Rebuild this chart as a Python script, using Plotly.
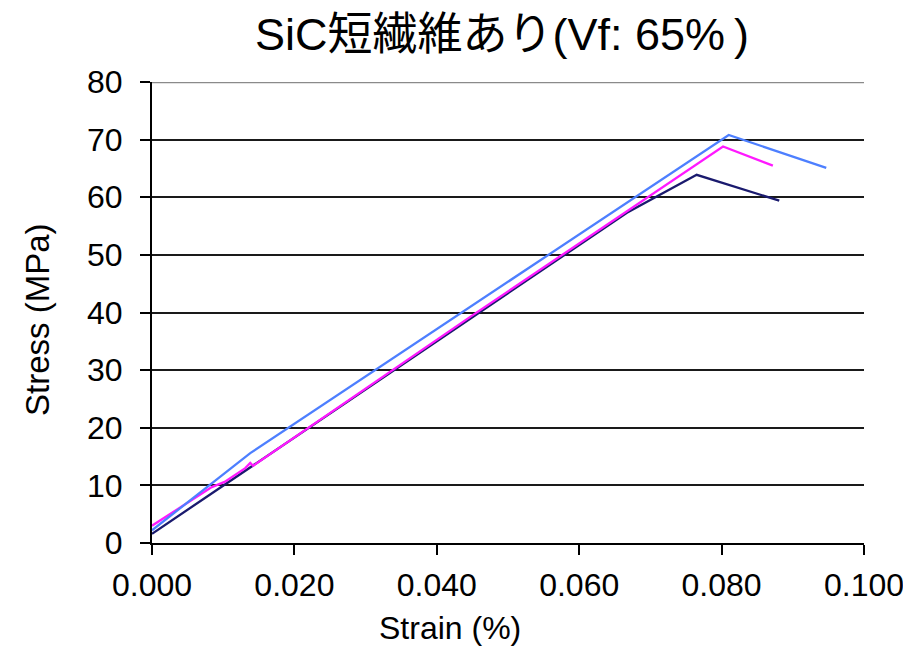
import plotly.graph_objects as go

# Data
strain_blue = [0.0, 0.0138, 0.0810, 0.0947]
stress_blue = [2.2, 15.6, 70.8, 65.1]

strain_magenta = [0.0, 0.0084, 0.0102, 0.0131, 0.0138, 0.0142, 0.045, 0.0802, 0.0872]
stress_magenta = [3.0, 9.7, 10.6, 13.0, 13.9, 13.4, 39.5, 68.8, 65.5]

strain_navy = [0.0, 0.0667, 0.0765, 0.0881]
stress_navy = [1.6, 57.3, 63.9, 59.4]

x_ticks = [0.0, 0.02, 0.04, 0.06, 0.08, 0.1]
x_tick_labels = ["0.000", "0.020", "0.040", "0.060", "0.080", "0.100"]
y_ticks = [0, 10, 20, 30, 40, 50, 60, 70, 80]

title_text = "SiC短繊維あり(Vf: 65%\u2009)"
x_title = "Strain (%)"
y_title = "Stress (MPa)"

fig = go.Figure()
fig.add_trace(go.Scatter(x=strain_navy, y=stress_navy, mode="lines",
                         line=dict(color="#1a1a6e", width=2.3), showlegend=False))
fig.add_trace(go.Scatter(x=strain_magenta, y=stress_magenta, mode="lines",
                         line=dict(color="#ff19ff", width=2.3), showlegend=False))
fig.add_trace(go.Scatter(x=strain_blue, y=stress_blue, mode="lines",
                         line=dict(color="#4d7fff", width=2.3), showlegend=False))

font_main = "Liberation Sans, Arial, Noto Sans CJK JP, sans-serif"

W, H = 903, 641
L, R, T, B = 144, 47, 74, 106
PH = H - T - B
fig.update_layout(
    width=W, height=H,
    margin=dict(l=L, r=R, t=T, b=B),
    paper_bgcolor="white", plot_bgcolor="white",
    title=dict(text=title_text, x=0.4916, xref="paper", xanchor="center",
               y=1 - 26 / H, yref="container", yanchor="middle",
               font=dict(family="Liberation Sans, Noto Sans CJK JP, sans-serif",
                         size=45, color="black")),
    font=dict(family=font_main, color="black"),
)

# top border line at the highest tick value (gray in the reference)
fig.add_shape(type="line", xref="paper", x0=0, x1=1, yref="y",
              y0=y_ticks[-1], y1=y_ticks[-1],
              line=dict(color="#8a8a8a", width=2.5), layer="below")

# axis titles as annotations (positioned as in the reference)
fig.add_annotation(text=x_title, xref="paper", yref="paper",
                   x=0.4185, y=-(620 - (T + PH)) / PH,
                   xanchor="center", yanchor="middle", showarrow=False,
                   font=dict(size=32, family=font_main, color="black"))
fig.add_annotation(text=y_title, xref="paper", yref="paper",
                   x=-(L - 29) / 712, y=-(312 - (T + PH)) / PH,
                   xanchor="center", yanchor="middle", showarrow=False,
                   textangle=-90,
                   font=dict(size=33, family=font_main, color="black"))

fig.update_xaxes(
    range=[0, 0.1], tickvals=x_ticks, ticktext=x_tick_labels,
    showgrid=False, zeroline=False, automargin=False,
    showline=True, linecolor="black", linewidth=2,
    ticks="outside", ticklen=10, tickwidth=2, tickcolor="black",
    tickfont=dict(size=32, family=font_main), ticklabelstandoff=3,
)
fig.update_yaxes(
    range=[0, 80], tickvals=y_ticks,
    showgrid=True, gridcolor="#1a1a1a", gridwidth=1.8,
    zeroline=False, automargin=False,
    showline=True, linecolor="black", linewidth=2,
    ticks="outside", ticklen=10, tickwidth=2, tickcolor="black",
    tickfont=dict(size=32, family=font_main), ticklabelstandoff=11,
)

fig.write_html("out.html")
